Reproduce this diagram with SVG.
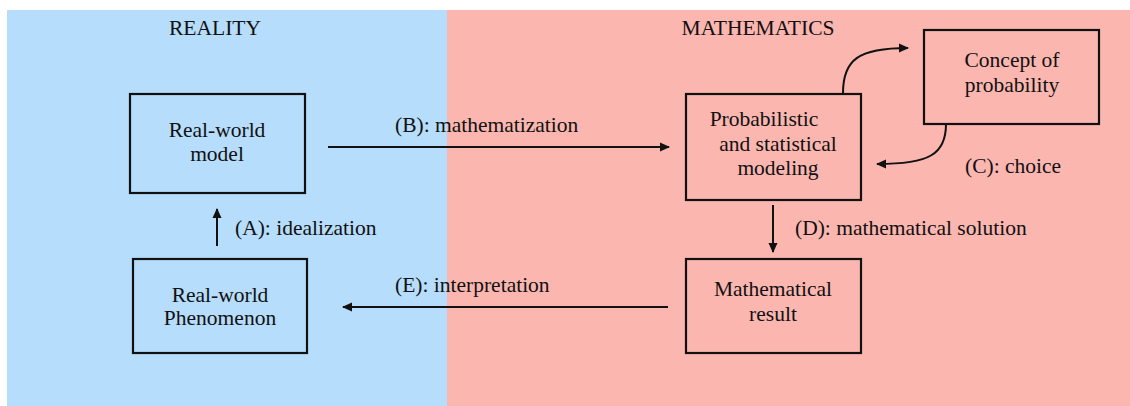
<svg xmlns="http://www.w3.org/2000/svg" width="1130" height="406" viewBox="0 0 1130 406">
<style>
.box{fill:none;stroke:#111;stroke-width:2.2}
.t{font-family:"Liberation Serif",serif;font-size:21.5px;fill:#111}
.c{text-anchor:middle}
.ln{fill:none;stroke:#111;stroke-width:2}
</style>
<defs>
<marker id="ah" markerWidth="10" markerHeight="10" refX="9" refY="5" orient="auto" markerUnits="userSpaceOnUse">
<path d="M0,0.5 L10,5 L0,9.5 Z" fill="#111"/>
</marker>
</defs>
<rect x="0" y="0" width="1130" height="406" fill="#fff"/>
<rect x="7" y="10" width="440" height="396" fill="#b6ddfb"/>
<rect x="447" y="10" width="683" height="396" fill="#fbb6b0"/>
<text class="t c" x="215" y="35">REALITY</text>
<text class="t c" x="758" y="35">MATHEMATICS</text>
<g id="real-world-model">
<rect class="box" x="130" y="94" width="175" height="99"/>
<text class="t c" x="217" y="137">Real-world</text>
<text class="t c" x="217" y="161">model</text>
</g>
<g id="real-world-phenomenon">
<rect class="box" x="133" y="259" width="174" height="94"/>
<text class="t c" x="220" y="302">Real-world</text>
<text class="t c" x="220" y="325">Phenomenon</text>
</g>
<g id="modeling">
<rect class="box" x="686" y="94" width="175" height="106"/>
<text class="t c" x="764" y="126">Probabilistic</text>
<text class="t c" x="778" y="151">and statistical</text>
<text class="t c" x="778" y="175">modeling</text>
</g>
<g id="concept">
<rect class="box" x="924" y="30" width="175" height="94"/>
<text class="t c" x="1012" y="67">Concept of</text>
<text class="t c" x="1012" y="92">probability</text>
</g>
<g id="result">
<rect class="box" x="686" y="259" width="175" height="94"/>
<text class="t c" x="773" y="296">Mathematical</text>
<text class="t c" x="773" y="321">result</text>
</g>
<g id="connectors">
<line class="ln" x1="217" y1="246" x2="217" y2="209" marker-end="url(#ah)"/>
<line class="ln" x1="328" y1="147" x2="669" y2="147" marker-end="url(#ah)"/>
<path class="ln" d="M843,93 C843,60 858,48 908,48" marker-end="url(#ah)"/>
<path class="ln" d="M946,124 C946,154 930,164 877,164" marker-end="url(#ah)"/>
<line class="ln" x1="773" y1="205" x2="773" y2="252" marker-end="url(#ah)"/>
<line class="ln" x1="668" y1="307" x2="343" y2="307" marker-end="url(#ah)"/>
</g>
<g id="labels">
<text class="t" x="235" y="235">(A): idealization</text>
<text class="t" x="395" y="132">(B): mathematization</text>
<text class="t" x="965" y="173">(C): choice</text>
<text class="t" x="795" y="235">(D): mathematical solution</text>
<text class="t" x="395" y="292">(E): interpretation</text>
</g>
</svg>
